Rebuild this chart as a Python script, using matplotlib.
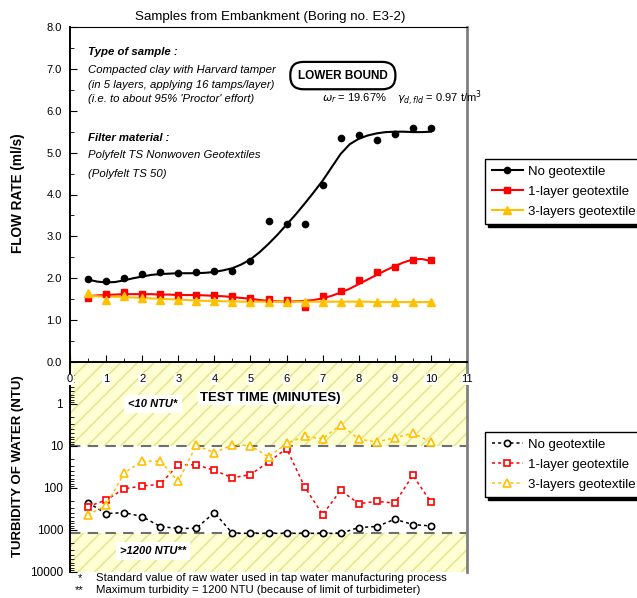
import matplotlib
matplotlib.use('Agg')
from matplotlib import pyplot as plt
from matplotlib.lines import Line2D

plt.rcParams['font.family'] = ['Liberation Sans', 'DejaVu Sans']
plt.rcParams['hatch.linewidth'] = 1.2

# test time (minutes)
t = [0.5, 1.0, 1.5, 2.0, 2.5, 3.0, 3.5, 4.0, 4.5, 5.0,
     5.5, 6.0, 6.5, 7.0, 7.5, 8.0, 8.5, 9.0, 9.5, 10.0]

# flow rate (ml/s), measured points
flow_none = [1.98, 1.93, 2.00, 2.09, 2.14, 2.13, 2.14, 2.18, 2.18, 2.42,
             3.37, 3.30, 3.30, 4.22, 5.34, 5.43, 5.29, 5.45, 5.60, 5.58]
flow_1 = [1.54, 1.63, 1.66, 1.63, 1.62, 1.60, 1.61, 1.59, 1.57, 1.54,
          1.50, 1.49, 1.32, 1.57, 1.70, 1.96, 2.16, 2.28, 2.43, 2.43]
flow_3 = [1.64, 1.49, 1.57, 1.52, 1.49, 1.47, 1.46, 1.45, 1.44, 1.44,
          1.44, 1.44, 1.44, 1.44, 1.44, 1.44, 1.43, 1.43, 1.43, 1.43]

# trend lines
fit_t = [0.5, 0.75, 1.0, 1.25, 1.5, 1.75, 2.0, 2.25, 2.5, 2.75,
         3.0, 3.25, 3.5, 3.75, 4.0, 4.25, 4.5, 4.75, 5.0, 5.25,
         5.5, 5.75, 6.0, 6.25, 6.5, 6.75, 7.0, 7.25, 7.5, 7.75,
         8.0, 8.25, 8.5, 8.75, 9.0, 9.25, 9.5, 9.75, 10.0]
fit_none = [1.97, 1.92, 1.90, 1.91, 1.95, 2.00, 2.04, 2.08, 2.10, 2.11,
            2.12, 2.12, 2.12, 2.13, 2.15, 2.19, 2.24, 2.33, 2.45, 2.62,
            2.82, 3.04, 3.28, 3.52, 3.78, 4.05, 4.33, 4.65, 4.97, 5.20,
            5.33, 5.41, 5.46, 5.49, 5.50, 5.50, 5.49, 5.49, 5.50]
fit_1 = [1.57, 1.59, 1.60, 1.61, 1.62, 1.62, 1.62, 1.62, 1.61, 1.61,
         1.60, 1.60, 1.60, 1.59, 1.58, 1.57, 1.55, 1.53, 1.51, 1.48,
         1.46, 1.45, 1.44, 1.45, 1.46, 1.48, 1.52, 1.58, 1.66, 1.75,
         1.86, 1.97, 2.08, 2.19, 2.29, 2.38, 2.45, 2.46, 2.41]
fit_3 = [1.58, 1.57, 1.56, 1.56, 1.55, 1.54, 1.53, 1.52, 1.51, 1.50,
         1.49, 1.48, 1.47, 1.46, 1.46, 1.45, 1.45, 1.44, 1.44, 1.44,
         1.44, 1.44, 1.44, 1.44, 1.44, 1.44, 1.44, 1.44, 1.44, 1.44,
         1.44, 1.44, 1.43, 1.43, 1.43, 1.43, 1.43, 1.43, 1.43]

# turbidity of water (NTU)
turb_none = [223, 407, 385, 479, 826, 922, 906, 385, 1200, 1200,
             1200, 1200, 1200, 1200, 1200, 873, 826, 555, 741, 800]
turb_1 = [277, 194, 104, 90, 81, 28, 28, 38, 57, 48,
          24, 11.5, 93, 430, 114, 236, 208, 228, 50, 216]
turb_3 = [437, 258, 44, 23, 23, 69, 9.6, 14.5, 9.3, 9.8,
          18.3, 8.7, 5.9, 6.7, 3.1, 6.8, 8.0, 6.4, 4.9, 8.1]

names = ['No geotextile', '1-layer geotextile', '3-layers geotextile']
colors = ['black', '#ff0000', '#ffc000']
markers = ['o', 's', '^']
msizes = [4.5, 4.5, 5.5]

W, H = 637.0, 598.0
fig = plt.figure(figsize=(W / 100, H / 100), dpi=100)
ax1 = fig.add_axes([70 / W, 1 - 362 / H, 397 / W, 335 / H])
ax2 = fig.add_axes([70 / W, 1 - 572 / H, 397 / W, 210 / H])
ax1.set_zorder(3)
ax1.patch.set_alpha(0)

# ---- flow rate ----
fits = [fit_none, fit_1, fit_3]
flows = [flow_none, flow_1, flow_3]
for i in range(3):
    ax1.plot(fit_t, fits[i], color=colors[i], lw=1.5, zorder=2)
    ax1.plot(t, flows[i], linestyle='none', marker=markers[i], color=colors[i],
             ms=msizes[i], zorder=3)

ax1.set_xlim(0, 11)
ax1.set_ylim(0, 8)
ax1.set_xticks(range(12))
ax1.set_xticks([x + 0.5 for x in range(11)], minor=True)
ax1.set_yticks(range(9))
ax1.set_yticklabels(['%.1f' % v for v in range(9)])
ax1.set_yticks([y + 0.5 for y in range(8)], minor=True)
ax1.tick_params(which='both', direction='in', labelsize=8)
ax1.tick_params(which='major', length=5)
ax1.tick_params(which='minor', length=3)
ax1.tick_params(axis='x', pad=9)
ax1.tick_params(axis='y', pad=6)
for lbl in ax1.get_xticklabels():
    lbl.set_bbox(dict(facecolor='white', edgecolor='none', pad=0.5))
ax1.spines['right'].set_color('#808080')
ax1.spines['right'].set_linewidth(2)
ax1.spines['left'].set_linewidth(1.4)
ax1.spines['bottom'].set_linewidth(1.4)

ax1.text(0.5, 7.4, 'Type of sample :', fontsize=8.2, fontweight='bold', style='italic', va='center')
ax1.text(0.5, 6.98, 'Compacted clay with Harvard tamper', fontsize=8.2, style='italic', va='center')
ax1.text(0.5, 6.61, '(in 5 layers, applying 16 tamps/layer)', fontsize=8.2, style='italic', va='center')
ax1.text(0.5, 6.27, "(i.e. to about 95% 'Proctor' effort)", fontsize=8.2, style='italic', va='center')
ax1.text(0.5, 5.34, 'Filter material :', fontsize=8.2, fontweight='bold', style='italic', va='center')
ax1.text(0.5, 4.94, 'Polyfelt TS Nonwoven Geotextiles', fontsize=8.2, style='italic', va='center')
ax1.text(0.5, 4.5, '(Polyfelt TS 50)', fontsize=8.2, style='italic', va='center')

ax1.text(7.56, 6.84, 'LOWER BOUND', fontsize=8.5, fontweight='bold', ha='center', va='center',
         bbox=dict(boxstyle='round,pad=0.65,rounding_size=1.1', facecolor='white',
                   edgecolor='black', linewidth=1.6))
ax1.text(6.98, 6.3, r'$\omega_r$ = 19.67%', fontsize=8, va='center')
ax1.text(9.05, 6.3, r'$\gamma_{d,fld}$ = 0.97 t/m$^3$', fontsize=8, va='center', clip_on=False)

# ---- turbidity ----
ax2.set_yscale('log')
ax2.set_xlim(0, 11)
ax2.set_ylim(10000, 0.1)
ax2.axhspan(0.1, 10, facecolor='#ffffd4', edgecolor='#e6e692', hatch='//', lw=0, zorder=0)
ax2.axhspan(1200, 10000, facecolor='#ffffd4', edgecolor='#e6e692', hatch='//', lw=0, zorder=0)
ax2.axhline(10, color='#6e6e6e', lw=1.5, ls=(0, (5, 3.5)), zorder=1)
ax2.axhline(1200, color='#6e6e6e', lw=1.5, ls=(0, (5, 3.5)), zorder=1)

turbs = [turb_none, turb_1, turb_3]
msizes2 = [4.5, 5.0, 5.5]
lines2 = []
for i in range(3):
    ln, = ax2.plot(t, turbs[i], color=colors[i], lw=1.1, ls=(0, (2, 2)),
                   marker=markers[i], mfc='white', mec=colors[i], mew=1.2,
                   ms=msizes2[i], zorder=3)
    lines2.append(ln)

ax2.set_xticks([])
ax2.set_yticks([1, 10, 100, 1000, 10000])
ax2.set_yticklabels(['1', '10', '100', '1000', '10000'])
ax2.tick_params(which='both', direction='in', labelsize=8.5, pad=5)
ax2.tick_params(which='major', length=5)
ax2.tick_params(which='minor', length=3)
ax2.spines['top'].set_visible(False)
ax2.spines['bottom'].set_visible(False)
ax2.spines['right'].set_color('#808080')
ax2.spines['right'].set_linewidth(2)
ax2.spines['left'].set_linewidth(1.4)

ax2.text(2.3, 1.0, '<10 NTU*', fontsize=8, fontweight='bold', style='italic', ha='center', va='center',
         bbox=dict(facecolor='white', edgecolor='none', pad=3))
ax2.text(2.3, 3200, '>1200 NTU**', fontsize=8, fontweight='bold', style='italic', ha='center', va='center',
         bbox=dict(facecolor='white', edgecolor='none', pad=3))

# ---- labels ----
fig.text(270 / W, 1 - 17 / H, 'Samples from Embankment (Boring no. E3-2)', fontsize=9.6, ha='center', va='center')
fig.text(270 / W, 1 - 398 / H, 'TEST TIME (MINUTES)', fontsize=9.5, fontweight='bold', ha='center', va='center',
         bbox=dict(facecolor='white', edgecolor='none', pad=1), zorder=5)
fig.text(18 / W, 1 - 193 / H, 'FLOW RATE (ml/s)', fontsize=9.8, fontweight='bold', rotation=90, ha='center', va='center')
fig.text(18 / W, 1 - 466 / H, 'TURBIDITY OF WATER (NTU)', fontsize=9.5, fontweight='bold', rotation=90, ha='center', va='center')
fig.text(80 / W, 1 - 578 / H, '*', fontsize=8, ha='center', va='center')
fig.text(79 / W, 1 - 590 / H, '**', fontsize=8, ha='center', va='center')
fig.text(96 / W, 1 - 578 / H, 'Standard value of raw water used in tap water manufacturing process', fontsize=8.2, va='center')
fig.text(96 / W, 1 - 590 / H, 'Maximum turbidity = 1200 NTU (because of limit of turbidimeter)', fontsize=8.2, va='center')

# ---- legends ----
handles1 = [Line2D([], [], color=colors[i], lw=1.5, marker=markers[i], ms=msizes[i]) for i in range(3)]
leg_kw = dict(loc='upper left', fontsize=9.5, frameon=True, fancybox=False, framealpha=1,
              edgecolor='black', shadow={'ox': 2, 'oy': -2, 'color': 'black', 'alpha': 1},
              handlelength=2.4, handletextpad=0.35, borderpad=0.5, labelspacing=0.58, borderaxespad=0)
leg1 = fig.legend(handles1, names, bbox_to_anchor=(485 / W, 1 - 159 / H), **leg_kw)
leg2 = fig.legend(lines2, names, bbox_to_anchor=(485 / W, 1 - 432 / H), **leg_kw)
leg1.get_frame().set_linewidth(1.0)
leg2.get_frame().set_linewidth(1.0)

plt.savefig('out.png', dpi=100, facecolor='white')
